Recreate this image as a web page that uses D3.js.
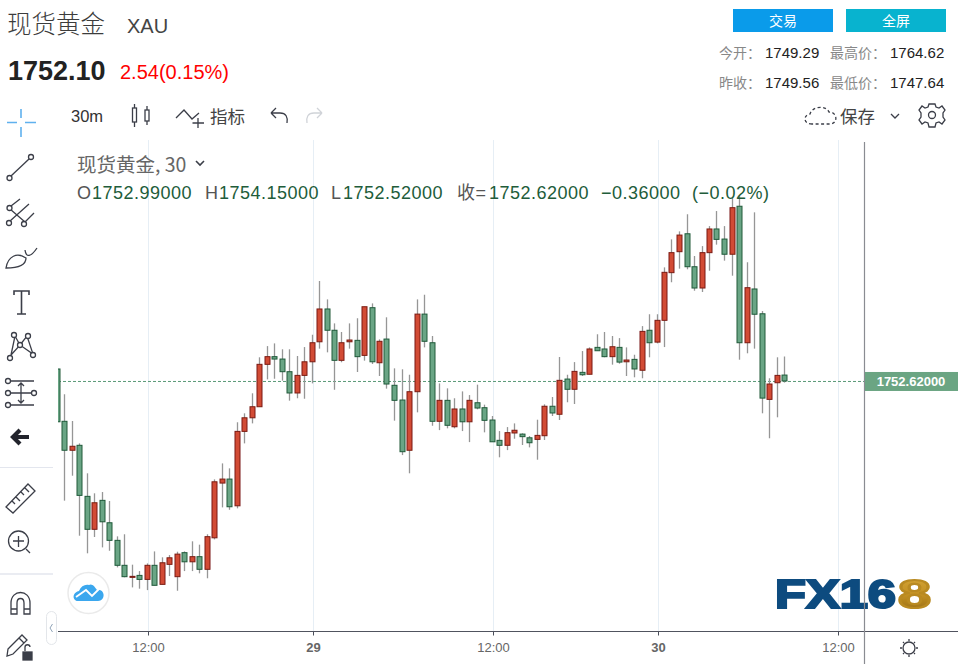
<!DOCTYPE html>
<html>
<head>
<meta charset="utf-8">
<script src="https://cdn.jsdelivr.net/npm/d3@7"></script>
<style>
  html, body { margin: 0; padding: 0; background: #fff; overflow: hidden; }
  text { font-family: "Liberation Sans", "Noto Sans CJK SC", sans-serif; }
  .cn { font-family: "Noto Sans CJK SC", sans-serif; }
</style>
</head>
<body>
<div id="chart"></div>
<script>
// ohlc, 30m bars
const opens = [1753.37,1750.10,1748.29,1748.60,1745.41,1743.35,1745.16,1743.76,1742.66,1741.10,1740.37,1740.47,1740.22,1741.10,1739.91,1741.16,1740.39,1741.89,1741.32,1741.64,1740.85,1742.82,1746.24,1746.49,1744.82,1749.47,1750.32,1751.01,1753.66,1754.14,1753.99,1753.20,1751.87,1752.97,1753.82,1755.07,1757.12,1755.79,1753.91,1755.07,1755.16,1754.22,1757.20,1753.76,1755.24,1752.35,1751.43,1748.29,1751.95,1756.80,1755.01,1750.10,1751.41,1749.76,1750.87,1750.07,1751.26,1750.95,1750.18,1748.91,1748.60,1749.37,1749.30,1749.07,1748.97,1749.20,1751.04,1750.54,1752.74,1752.10,1753.16,1753.04,1754.72,1754.62,1754.14,1754.72,1753.82,1753.97,1753.29,1755.79,1755.05,1756.41,1759.39,1760.70,1761.82,1759.76,1758.43,1760.64,1762.12,1761.49,1760.54,1763.54,1755.01,1758.37,1756.82,1751.47,1752.51,1752.99];
const highs = [1753.37,1751.79,1750.12,1748.72,1746.85,1745.60,1745.68,1745.12,1742.91,1743.04,1741.14,1740.74,1741.22,1741.97,1741.60,1741.74,1741.95,1741.97,1742.60,1742.39,1743.04,1746.47,1747.47,1747.16,1750.04,1750.60,1751.85,1754.10,1754.80,1754.97,1754.60,1754.60,1754.18,1754.74,1755.51,1758.87,1757.72,1756.22,1755.68,1756.22,1756.54,1757.26,1757.47,1755.22,1756.60,1753.41,1753.35,1753.01,1757.72,1758.01,1755.43,1752.47,1752.16,1751.54,1751.97,1751.74,1752.39,1751.14,1750.43,1749.49,1749.74,1749.97,1749.35,1749.18,1750.20,1751.16,1751.62,1754.12,1753.01,1753.80,1754.49,1754.72,1755.54,1755.68,1755.43,1755.30,1754.72,1754.26,1756.05,1756.79,1756.79,1759.72,1761.47,1761.97,1763.04,1760.43,1761.05,1762.30,1763.24,1762.30,1764.14,1764.24,1760.04,1763.16,1756.99,1752.79,1754.10,1754.15];
const lows = [1750.07,1745.14,1746.70,1742.95,1741.85,1742.87,1742.22,1742.01,1740.97,1740.35,1739.72,1739.64,1739.55,1739.85,1739.91,1740.43,1739.51,1740.74,1740.74,1740.60,1740.29,1742.72,1744.72,1744.57,1744.66,1748.72,1749.97,1751.01,1752.72,1752.76,1752.64,1751.39,1751.54,1751.51,1752.47,1754.64,1754.41,1752.07,1753.79,1754.64,1753.18,1753.89,1753.68,1752.93,1752.14,1750.14,1747.99,1746.85,1750.66,1754.72,1749.82,1749.55,1749.66,1749.66,1749.49,1748.80,1750.85,1749.41,1748.82,1747.85,1748.30,1749.01,1748.62,1748.47,1747.70,1748.93,1750.43,1750.18,1751.29,1751.18,1752.93,1753.04,1754.51,1754.10,1753.64,1753.70,1752.93,1752.85,1752.79,1754.10,1754.97,1754.74,1758.79,1759.64,1759.60,1758.26,1758.18,1759.51,1761.14,1760.14,1759.20,1753.95,1754.35,1754.64,1750.60,1749.04,1750.35,1752.52];
const closes = [1750.07,1748.29,1748.54,1745.47,1743.35,1745.01,1743.82,1742.66,1741.10,1740.39,1740.41,1740.22,1741.10,1739.85,1741.26,1741.57,1741.80,1741.32,1741.64,1740.85,1742.89,1746.32,1746.49,1744.76,1749.47,1750.32,1751.01,1753.66,1754.14,1753.99,1753.20,1751.87,1752.97,1753.82,1755.01,1757.12,1755.79,1753.91,1755.01,1755.18,1754.14,1757.26,1753.82,1755.10,1752.43,1751.41,1748.20,1751.95,1756.80,1755.10,1750.10,1751.41,1749.85,1750.87,1750.07,1751.41,1750.93,1750.16,1748.82,1748.60,1749.39,1749.54,1749.14,1748.76,1749.22,1751.04,1750.62,1752.66,1752.10,1753.22,1753.01,1754.62,1754.51,1754.14,1754.76,1753.80,1753.93,1753.37,1755.72,1755.01,1756.41,1759.41,1760.64,1761.74,1759.76,1758.43,1760.64,1762.12,1761.47,1760.54,1763.45,1755.01,1758.45,1756.79,1751.55,1752.43,1752.97,1752.62];

const tickBars = [12, 34, 58, 80, 104];
const tickLabels = ["12:00", "29", "12:00", "30", "12:00"];
const boldTicks = ["29", "30"];
const lastPrice = 1752.62;

const width = 958, height = 664;
const svg = d3.select("#chart").append("svg").attr("width", width).attr("height", height).style("display", "block");

const x = d3.scaleLinear().domain([0, 104]).range([57, 837]);
const y = d3.scaleLinear().domain([1736.995, 1767.68]).range([631, 140]);

const defs = svg.append("defs");
defs.append("clipPath").attr("id", "plot").append("rect").attr("x", 58).attr("y", 140).attr("width", 806).attr("height", 491);
defs.append("filter").attr("id", "soft").append("feGaussianBlur").attr("stdDeviation", 0.35);
defs.append("filter").attr("id", "soft2").append("feGaussianBlur").attr("stdDeviation", 0.6);
const gold = defs.append("linearGradient").attr("id", "gold").attr("x1", 0).attr("y1", 0).attr("x2", 0).attr("y2", 1);
gold.append("stop").attr("offset", 0).attr("stop-color", "#d9a93a");
gold.append("stop").attr("offset", 0.55).attr("stop-color", "#c08e22");
gold.append("stop").attr("offset", 1).attr("stop-color", "#8c6412");

// grid
svg.append("g").selectAll("line").data(tickBars).join("line")
  .attr("x1", d => x(d) + 1.5).attr("x2", d => x(d) + 1.5)
  .attr("y1", 140).attr("y2", 631)
  .attr("stroke", "#e6eef5").attr("stroke-width", 1);

// logo under the candles
const logo = svg.append("g").attr("filter", "url(#soft2)");
logo.append("text").attr("x", 775).attr("y", 608).attr("textLength", 121).attr("lengthAdjust", "spacingAndGlyphs")
  .attr("font-size", 40).attr("font-weight", 700).attr("fill", "#0f4c7f").attr("stroke", "#0f4c7f").attr("stroke-width", 2.2).text("FX16");
logo.append("text").attr("x", 898).attr("y", 608).attr("textLength", 33).attr("lengthAdjust", "spacingAndGlyphs")
  .attr("font-size", 40).attr("font-weight", 700).attr("fill", "url(#gold)").attr("stroke", "#b98a20").attr("stroke-width", 2.2).text("8");

// last price line
svg.append("line").attr("x1", 58).attr("x2", 864).attr("y1", y(lastPrice) + .5).attr("y2", y(lastPrice) + .5)
  .attr("stroke", "#5a9a78").attr("stroke-dasharray", "3 2").attr("stroke-width", 1);

// candles
const bars = d3.range(opens.length);
const candles = svg.append("g").attr("clip-path", "url(#plot)").append("g").attr("filter", "url(#soft)");
const isUp = i => closes[i] >= opens[i];
candles.selectAll(".wick").data(bars).join("line").attr("class", "wick")
  .attr("x1", i => Math.floor(x(i)) + .5).attr("x2", i => Math.floor(x(i)) + .5)
  .attr("y1", i => y(highs[i])).attr("y2", i => y(lows[i]))
  .attr("stroke", "#969696").attr("stroke-width", 1.3);
candles.selectAll(".body").data(bars).join("rect").attr("class", "body")
  .attr("x", i => Math.floor(x(i)) - 2).attr("width", 5)
  .attr("y", i => y(Math.max(opens[i], closes[i])))
  .attr("height", i => Math.max(1, Math.abs(y(opens[i]) - y(closes[i]))))
  .attr("fill", i => isUp(i) ? "#d24b36" : "#6aa585")
  .attr("stroke", i => isUp(i) ? "#7a1c12" : "#1f5a3a")
  .attr("stroke-width", 1);

// time axis
const axis = d3.axisBottom(x).tickValues(tickBars).tickSize(4).tickPadding(7)
  .tickFormat((d, i) => tickLabels[i]);
const axisG = svg.append("g").attr("transform", "translate(1,631.5)").call(axis);
axisG.select(".domain").remove();
axisG.selectAll("line").attr("stroke", "#4a4e5a");
axisG.selectAll("text").attr("font-size", 13).attr("fill", "#666")
  .attr("font-weight", (d, i) => boldTicks.includes(tickLabels[i]) ? 700 : 400);
svg.append("line").attr("x1", 58).attr("x2", 958).attr("y1", 631.5).attr("y2", 631.5).attr("stroke", "#50535e");
svg.append("line").attr("x1", 864.5).attr("x2", 864.5).attr("y1", 142).attr("y2", 664).attr("stroke", "#8a8c92").attr("stroke-width", 1.2);

// price tag
svg.append("rect").attr("x", 865).attr("y", y(lastPrice) - 9).attr("width", 93).attr("height", 19).attr("fill", "#6ba583");
svg.append("text").attr("x", 911).attr("y", y(lastPrice) + 5).attr("text-anchor", "middle").attr("font-size", 13)
  .attr("font-weight", 700).attr("fill", "#fff").text(lastPrice.toFixed(5));

// header
function label(txt, px, py, size, fill, opts) {
  const t = svg.append("text").attr("x", px).attr("y", py).attr("font-size", size).attr("fill", fill).text(txt);
  if (opts && opts.cn) t.attr("class", "cn");
  if (opts && opts.bold) t.attr("font-weight", 700);
  if (opts && opts.anchor) t.attr("text-anchor", opts.anchor);
  return t;
}
label("现货黄金", 7, 33, 24.5, "#3c3c3c", { cn: true }).attr("font-weight", 300);
label("XAU", 127, 33, 20, "#444");
label("1752.10", 8, 80, 27, "#222", { bold: true });
label("2.54(0.15%)", 120, 79, 20, "#f00");

svg.append("rect").attr("x", 733).attr("y", 9).attr("width", 100).attr("height", 23).attr("fill", "#0a9bea");
svg.append("rect").attr("x", 846).attr("y", 9).attr("width", 100).attr("height", 23).attr("fill", "#08b3cf");
label("交易", 783, 26, 14, "#fff", { cn: true, anchor: "middle" });
label("全屏", 896, 26, 14, "#fff", { cn: true, anchor: "middle" });

label("今开：", 719, 58, 14, "#888", { cn: true });
label("1749.29", 765, 58, 15, "#222");
label("最高价：", 830, 58, 14, "#888", { cn: true });
label("1764.62", 890, 58, 15, "#222");
label("昨收：", 719, 88, 14, "#888", { cn: true });
label("1749.56", 765, 88, 15, "#222");
label("最低价：", 830, 88, 14, "#888", { cn: true });
label("1747.64", 890, 88, 15, "#222");

// top toolbar
label("30m", 71, 122, 16.5, "#333");
label("指标", 210, 123, 17.5, "#444", { cn: true });
label("保存", 840, 123, 17.5, "#444", { cn: true });

// legend
label("现货黄金, 30", 77, 172, 19.5, "#666", { cn: true });
const legendItems = [["O", 77, "#555"], ["1752.99000", 92, "#215c3a"], ["H", 205, "#555"], ["1754.15000", 219, "#215c3a"], ["L", 331, "#555"], ["1752.52000", 343, "#215c3a"], ["收=", 457, "#555"], ["1752.62000", 489, "#215c3a"], ["−0.36000", 601, "#215c3a"], ["(−0.02%)", 692, "#215c3a"]];
legendItems.forEach(p => {
  label(p[0], p[1], 198.5, 18, p[2]).style("letter-spacing", "0.5px");
});

// icons
const icons = svg.append("g").attr("fill", "none").attr("stroke", "#3b3e48").attr("stroke-width", 1.3);
const pth = d => icons.append("path").attr("d", d);
const dot = (cx, cy, r) => icons.append("circle").attr("cx", cx).attr("cy", cy).attr("r", r || 2.5).attr("fill", "#fff");

// crosshair
icons.append("path").attr("stroke", "#5fb1ee").attr("stroke-width", 1.6).attr("d", "M7 122.5H17M25 122.5H36M21 109V118M21 127V137");
// small chart icons in the top bar
pth("M134.5 104V108M134.5 122V127M147 106V110M147 121V125");
icons.append("rect").attr("x", 132.5).attr("y", 108).attr("width", 4).attr("height", 14);
icons.append("rect").attr("x", 145).attr("y", 110).attr("width", 4).attr("height", 11);
pth("M176 118L184 110L192 119L199 113M198 118V128M192.5 123H204");
pth("M271 113H280C286 113 288 117 287 123M271 113L276 108M271 113L276 118");
icons.append("path").attr("stroke", "#d0d3d8").attr("d", "M322 113H314C308 113 306 117 307 123M322 113L317 108M322 113L317 118");
icons.append("path").attr("stroke-dasharray", "3 2.5").attr("d", "M812 124C803 124 803 115 810 114C812 106 826 105 829 112C838 112 838 124 830 124Z");
pth("M891 114L895 118L899 114");
pth("M196 161L200 165L204 161").attr("stroke-width", 1.6);
icons.append("circle").attr("cx", 932).attr("cy", 115).attr("r", 3.5);
pth("M929 104H935L936 107L939 108L942 106L945 110L943 113V117L945 120L942 124L939 122L936 123L935 127H929L928 123L925 122L922 124L919 120L921 117V113L919 110L922 106L925 108L928 107Z");

// left bar
pth("M11 176L29 159"); dot(9.5, 178); dot(31, 157);
pth("M11 206L20 199M10 209L25 222M10 221L29 204M25 222L34 213"); dot(9.5, 208); dot(9, 223); dot(24, 224);
pth("M6 268C8 256 17 252 26 258C26 266 16 268 6 268ZM25 250C26 258 31 257 37 248");
icons.append("path").attr("stroke-width", 1.6).attr("d", "M14 295V291H29V295M21.5 291V314M17 314H26");
pth("M11 355L15 336L20 345L27 336L33 354L20 345L11 355"); dot(10, 358); dot(14, 335); dot(20, 345); dot(28, 336); dot(33, 355);
pth("M10 381H34M10 405H34M10 393H34M21 383V403M18 386L21 383L24 386M18 400L21 403L24 400"); dot(8, 381); dot(8, 393); dot(8, 405); dot(34, 393);
icons.append("path").attr("stroke-width", 4.2).attr("stroke", "#22242c").attr("d", "M29 437H13M20 430L13 437L20 444");
svg.append("line").attr("x1", 0).attr("x2", 53).attr("y1", 467.5).attr("y2", 467.5).attr("stroke", "#e3e6ee");
svg.append("line").attr("x1", 0).attr("x2", 53).attr("y1", 574).attr("y2", 574).attr("stroke", "#e3e6ee").attr("stroke-width", 1.6);
pth("M6 507L28 484L35 491L13 513ZM12 501L15 504M16 497L20 501M21 492L24 495M25 488L29 492");
icons.append("circle").attr("cx", 18.5).attr("cy", 541).attr("r", 10);
pth("M13 541H24M18.5 536V547M26 549L30 553");
pth("M11 614V603C11 589 30 589 30 603V614H24V603C24 597 17 597 17 603V614ZM11 609H17M24 609H30");
pth("M8 649L22 635L27 640L13 654L7 656ZM19 638L24 643");
icons.append("rect").attr("x", 23).attr("y", 652).attr("width", 9).attr("height", 8).attr("fill", "#3b3e48");
pth("M25 651V647C25 644 30 644 30 647");
// scale handle
svg.append("rect").attr("x", 46.5).attr("y", 611.5).attr("width", 10).attr("height", 33).attr("rx", 5).attr("fill", "#fff").attr("stroke", "#e3e6ea");
svg.append("path").attr("d", "M52.5 624L50 628L52.5 632").attr("fill", "none").attr("stroke", "#90a4b8");
// sun
icons.append("circle").attr("cx", 909).attr("cy", 648).attr("r", 6);
pth("M909 639V641M909 655V657M900 648H902M916 648H918M903 642L904 643M914 653L915 654M915 642L914 643M904 653L903 654");

// cloud badge
svg.append("circle").attr("cx", 88.5).attr("cy", 593).attr("r", 20.5).attr("fill", "#fff").attr("stroke", "#eaeaea").attr("stroke-width", 1.5);
svg.append("path").attr("fill", "#3ba7ee").attr("d", "M75 600C72 597 74 592 79 591C81 586 85 584 89 585C92 583 95 587 97 590C102 589 105 594 103 598C102 600 100 601 98 601H79C77 601 76 601 75 600Z");
svg.append("path").attr("fill", "none").attr("stroke", "#fff").attr("stroke-width", 1.8).attr("d", "M76 597L86 590L92 596L99 589");
</script>
</body>
</html>
